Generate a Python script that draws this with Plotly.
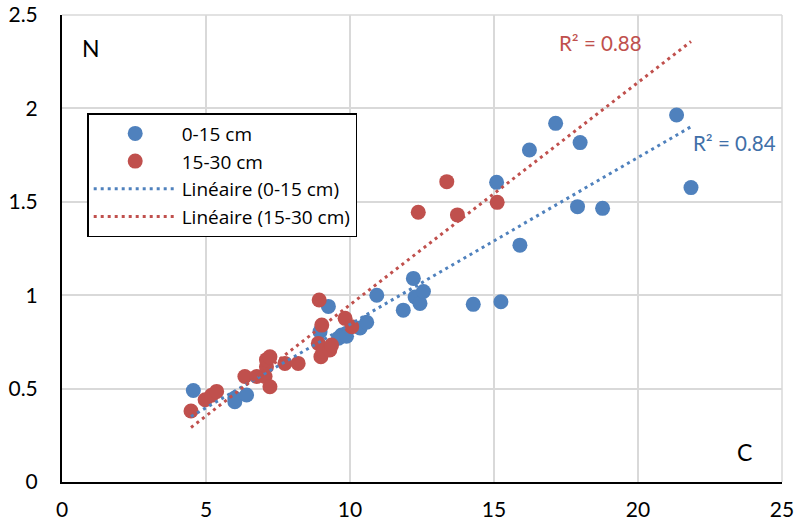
import numpy as np
import plotly.graph_objects as go

# Data: C (x) vs N (y)
c_0_15 = [4.56, 6.0, 6.0, 6.41, 8.96, 9.25, 9.6, 9.71, 9.88, 10.35, 10.58, 10.93, 11.85, 12.2,
          12.26, 12.43, 12.55, 14.28, 15.09, 15.24, 15.9, 16.23, 17.14, 17.9, 17.99, 18.77, 21.34, 21.84]
n_0_15 = [0.49, 0.45, 0.43, 0.466, 0.805, 0.94, 0.77, 0.787, 0.78, 0.825, 0.855, 1.0, 0.92, 1.09,
          0.99, 0.956, 1.02, 0.951, 1.604, 0.965, 1.268, 1.777, 1.92, 1.474, 1.817, 1.465, 1.965, 1.576]

c_15_30 = [4.48, 4.97, 5.2, 5.37, 6.35, 6.76, 7.05, 7.1, 7.1, 7.22, 7.22, 7.74, 8.2, 8.9, 8.93,
           8.99, 9.02, 9.07, 9.3, 9.36, 9.83, 10.06, 12.37, 13.36, 13.73, 15.11]
n_15_30 = [0.38, 0.44, 0.465, 0.485, 0.565, 0.565, 0.565, 0.617, 0.655, 0.51, 0.67, 0.635, 0.635,
           0.742, 0.974, 0.671, 0.84, 0.698, 0.707, 0.733, 0.876, 0.831, 1.444, 1.608, 1.43, 1.497]

names = ["0-15 cm", "15-30 cm"]
trend_names = ["Linéaire (0-15 cm)", "Linéaire (15-30 cm)"]
r2_labels = ["R² = 0.84", "R² = 0.88"]

x_ticks = [0, 5, 10, 15, 20, 25]
y_ticks = [0, 0.5, 1, 1.5, 2, 2.5]

BLUE = "#4F81BD"
RED = "#C0504D"
FONT = "Lato"

all_x = c_0_15 + c_15_30
xt = np.array([min(all_x), max(all_x)])

fig = go.Figure()
fig.add_trace(go.Scatter(x=c_0_15, y=n_0_15, mode="markers", name=names[0], legendgroup="a",
                         marker=dict(color=BLUE, size=15, line=dict(width=0))))
fig.add_trace(go.Scatter(x=c_15_30, y=n_15_30, mode="markers", name=names[1], legendgroup="b",
                         marker=dict(color=RED, size=15, line=dict(width=0))))

for xs, ys, col, nm, grp in [(c_0_15, n_0_15, BLUE, trend_names[0], "c"),
                            (c_15_30, n_15_30, RED, trend_names[1], "d")]:
    m, b = np.polyfit(xs, ys, 1)
    fig.add_trace(go.Scatter(x=xt, y=m * xt + b, mode="lines", name=nm, legendgroup=grp,
                             line=dict(color=col, width=3, dash="3px,4px")))

fig.add_annotation(x=0.025, y=0.93, xref="paper", yref="paper", text="N", showarrow=False,
                   font=dict(family=FONT, size=23, color="#000"), xanchor="left", yanchor="middle")
fig.add_annotation(x=0.948, y=0.065, xref="paper", yref="paper", text="C", showarrow=False,
                   font=dict(family=FONT, size=23, color="#000"), xanchor="center", yanchor="middle")
fig.add_annotation(x=20.2, y=2.35, text=r2_labels[1], showarrow=False,
                   font=dict(family=FONT, size=20.5, color=RED), xanchor="right", yanchor="middle")
fig.add_annotation(x=21.85, y=1.815, text=r2_labels[0], showarrow=False,
                   font=dict(family=FONT, size=20.5, color="#3F6FA8"), xanchor="left", yanchor="middle")

fig.update_layout(
    width=796, height=529,
    margin=dict(l=62, r=14, t=15, b=47),
    paper_bgcolor="white", plot_bgcolor="white",
    font=dict(family=FONT, size=21, color="#000"),
    showlegend=True,
    legend=dict(x=0.035, y=0.79, xanchor="left", yanchor="top",
                bgcolor="white", bordercolor="#000", borderwidth=1.5,
                font=dict(family="Open Sans", size=19, color="#000"),
                traceorder="grouped", tracegroupgap=0, itemwidth=83,
                entrywidth=200, entrywidthmode="pixels"),
)
fig.update_xaxes(range=[0, 25], tickvals=x_ticks, showgrid=True, gridcolor="#D9D9D9", gridwidth=1.5,
                 showline=True, linecolor="#000", linewidth=2, zeroline=False, ticks="",
                 ticklabelstandoff=8, fixedrange=True, automargin=False)
fig.update_yaxes(range=[0, 2.5], tickvals=y_ticks, showgrid=True, gridcolor="#D9D9D9", gridwidth=1.5,
                 showline=True, linecolor="#000", linewidth=2, zeroline=False, ticks="",
                 ticklabelstandoff=18, fixedrange=True, automargin=False)
fig.add_shape(type="line", xref="paper", yref="paper", x0=0, x1=1, y0=1, y1=1,
              line=dict(color="#D9D9D9", width=1.5), layer="below")
fig.add_shape(type="line", xref="paper", yref="paper", x0=1, x1=1, y0=0, y1=1,
              line=dict(color="#D9D9D9", width=1.5), layer="below")

fig.write_html("out.html")
